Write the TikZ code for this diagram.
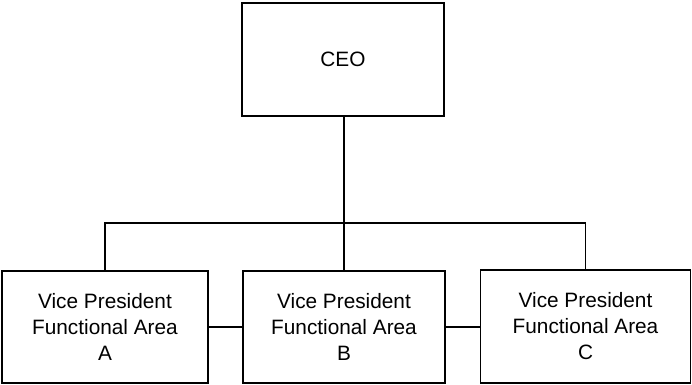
\documentclass[tikz,border=0pt]{standalone}
\usepackage{fontspec}
\setmainfont{Liberation Sans}
\begin{document}
\begin{tikzpicture}[x=1pt,y=-1pt,
  box/.style={draw, line width=1.3pt, inner sep=0pt, align=center,
    font=\fontsize{20.8}{26}\selectfont},
  link/.style={line width=1.3pt}]
\useasboundingbox (0,0) rectangle (692,384);
\node[box, minimum width=202pt, minimum height=113pt] (ceo) at (343,59.5) {CEO};
\node[box, minimum width=206pt, minimum height=112pt] (a) at (105,327) {Vice President\\Functional Area\\A};
\node[box, minimum width=202pt, minimum height=112pt] (b) at (344,327) {Vice President\\Functional Area\\B};
\node[box, minimum width=210pt, minimum height=113pt] (c) at (585.5,326.5) {Vice President\\Functional Area\\C};
\coordinate (j) at (344,223);
\draw[link] (b.north |- ceo.south) -- (b.north);
\draw[link] (a.north) |- (j) -| (c.north);
\draw[link] (a.east) -- (b.west);
\draw[link] (b.east) -- (b.east -| c.west);
\end{tikzpicture}
\end{document}
